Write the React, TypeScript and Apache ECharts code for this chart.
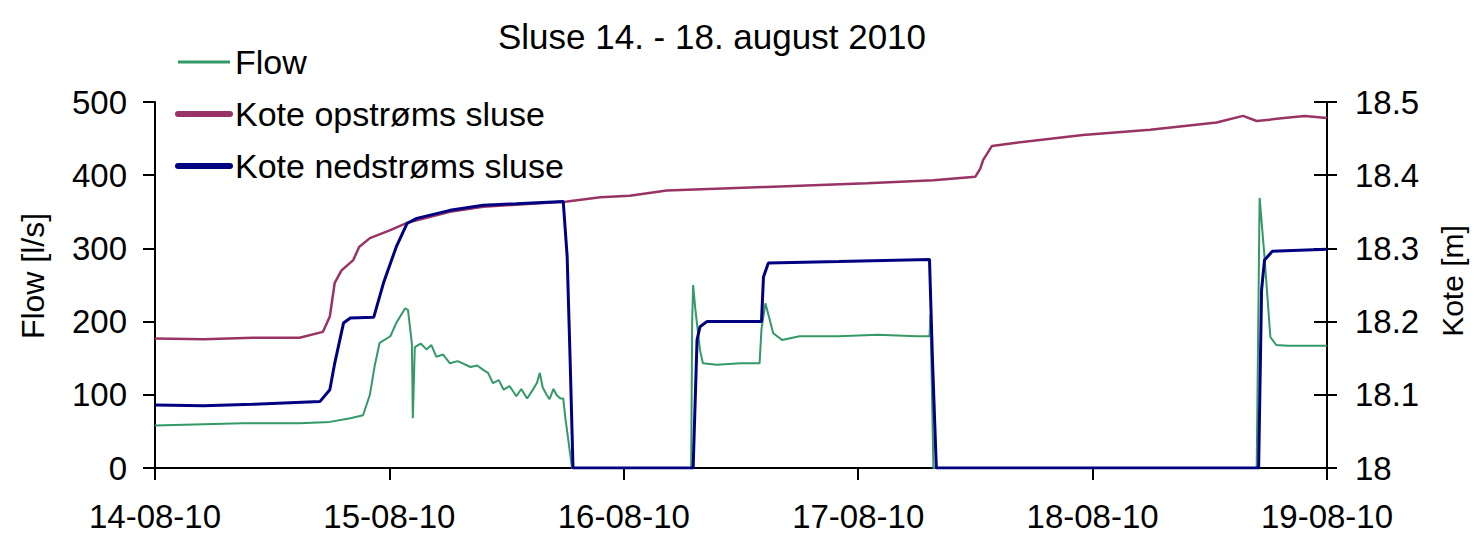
import React, { useEffect, useRef } from "react";
import * as echarts from "echarts";

const chartTitle = "Sluse 14. - 18. august 2010";
const seriesNames = ["Flow", "Kote opstrøms sluse", "Kote nedstrøms sluse"];
const leftAxisName = "Flow [l/s]";
const rightAxisName = "Kote [m]";

// hours since 14-08-10 00:00
const flowHours = [
  0, 3, 6, 9, 12, 14.8, 17.9, 20.0, 21.3, 22.0, 22.5, 23.0, 24.1, 24.7, 25.6, 25.9, 26.3, 26.4,
  26.6, 27.2, 27.8, 28.3, 28.8, 29.5, 30.2, 31.0, 32.3, 33.0, 33.6, 34.1, 34.6, 35.2, 35.7, 36.3,
  37.0, 37.5, 38.1, 38.6, 39.1, 39.4, 39.7, 40.1, 40.4, 40.8, 41.1, 41.5, 41.8, 42.0, 42.3, 42.7,
  54.9, 55.0, 55.1, 55.3, 55.8, 56.1, 57.5, 60.0, 61.9, 62.1, 62.5, 63.3, 64.2, 66, 70, 74, 78,
  79.3, 79.4, 79.7, 112.8, 113.1, 113.6, 114.2, 114.8, 116, 120,
];
const flowValues = [
  58, 59, 60, 61, 61, 61, 63, 68, 72, 100, 140, 171, 180, 198, 218, 216, 170, 68,
  165, 170, 162, 168, 152, 155, 143, 146, 138, 140, 134, 130, 116, 120, 107, 112,
  98, 108, 95, 105, 116, 130, 110, 100, 94, 108, 100, 95, 95, 70, 40, 0,
  0, 200, 250, 220, 161, 143, 141, 143, 143, 190, 225, 184, 175, 180, 180, 182, 180,
  180, 210, 0, 0, 369, 289, 179, 168, 167, 167,
];

const opstromsHours = [
  0, 5, 10, 14.8, 17.2, 17.9, 18.4, 19.1, 20.3, 20.9, 22.0, 24.1, 25.8, 30.2, 33.6, 42.2, 45.6,
  48.6, 52.4, 62.6, 72.9, 79.7, 84.0, 84.5, 84.8, 85.7, 88.0, 95.0, 101.9, 108.7, 111.4, 112.8,
  115.6, 117.7, 120,
];
const opstromsValues = [
  18.177, 18.176, 18.178, 18.178, 18.186, 18.207, 18.253, 18.27, 18.284, 18.302, 18.314, 18.325,
  18.335, 18.35, 18.357, 18.364, 18.37, 18.372, 18.379, 18.384, 18.389, 18.393, 18.398, 18.409,
  18.421, 18.44, 18.444, 18.455, 18.462, 18.472, 18.481, 18.474, 18.478, 18.481, 18.478,
];

const nedstromsHours = [
  0, 5, 10, 16.9, 17.9, 18.4, 19.3, 20.0, 22.4, 23.4, 24.7, 25.8, 26.8, 30.2, 33.6, 37.0, 41.8,
  42.2, 42.5, 42.8, 55.1, 55.5, 55.8, 56.5, 62.1, 62.3, 62.8, 70, 79.3, 79.6, 80.0, 113.0, 113.3,
  113.6, 114.4, 120,
];
const nedstromsValues = [
  18.086, 18.085, 18.087, 18.091, 18.107, 18.143, 18.198, 18.205, 18.206, 18.253, 18.302, 18.334,
  18.341, 18.352, 18.359, 18.361, 18.364, 18.289, 18.15, 18.0, 18.0, 18.175, 18.193, 18.2, 18.2,
  18.261, 18.28, 18.282, 18.285, 18.15, 18.0, 18.0, 18.243, 18.284, 18.296, 18.299,
];

const colors = ["#339966", "#993366", "#000080"];
const FONT = "'Liberation Sans', Arial, sans-serif";

function pairs(xs: number[], ys: number[]) {
  return xs.map((x, i) => [x, ys[i]]);
}

function dayLabel(h: number) {
  const d = 14 + Math.round(h / 24);
  return `${d}-08-10`;
}

export default function App() {
  const ref = useRef<HTMLDivElement>(null);
  useEffect(() => {
    if (!ref.current) return;
    const chart = echarts.init(ref.current, undefined, { renderer: "svg" });
    const axisLine = { show: true, lineStyle: { color: "#000", width: 2 } };
    const labelStyle = { color: "#000", fontFamily: FONT, fontSize: 33 };
    const hiddenSymbol = { opacity: 0, borderWidth: 0 };
    chart.setOption({
      animation: false,
      backgroundColor: "#fff",
      color: colors,
      title: {
        text: chartTitle,
        left: 707,
        textAlign: "center",
        top: 14,
        textStyle: { color: "#000", fontFamily: FONT, fontSize: 35, fontWeight: "normal" },
      },
      legend: {
        orient: "vertical",
        left: 175,
        top: 45,
        padding: 0,
        itemWidth: 52,
        itemHeight: 14,
        itemGap: 18,
        textStyle: { color: "#000", fontFamily: FONT, fontSize: 34, lineHeight: 34 },
        data: [
          { name: seriesNames[0], lineStyle: { width: 3 }, itemStyle: hiddenSymbol },
          { name: seriesNames[1], lineStyle: { width: 6, cap: "round" }, itemStyle: hiddenSymbol },
          { name: seriesNames[2], lineStyle: { width: 6, cap: "round" }, itemStyle: hiddenSymbol },
        ],
      },
      grid: { left: 155, right: 148, top: 102, bottom: 68, containLabel: false, outerBoundsMode: "none" },
      xAxis: {
        type: "value",
        min: 0,
        max: 120,
        interval: 24,
        axisLine: { ...axisLine, onZero: false },
        axisTick: { show: true, inside: false, length: 12, lineStyle: { color: "#000", width: 2 } },
        axisLabel: { ...labelStyle, margin: 32, formatter: (v: number) => dayLabel(v) },
        splitLine: { show: false },
      },
      yAxis: [
        {
          type: "value",
          position: "left",
          min: 0,
          max: 500,
          interval: 100,
          axisLine,
          axisTick: { show: true, inside: false, length: 12, lineStyle: { color: "#000", width: 2 } },
          axisLabel: { ...labelStyle, margin: 28 },
          splitLine: { show: false },
        },
        {
          type: "value",
          position: "right",
          min: 18,
          max: 18.5,
          interval: 0.1,
          axisLine,
          axisTick: { show: true, inside: false, length: 10, lineStyle: { color: "#000", width: 2 } },
          axisLabel: {
            ...labelStyle,
            margin: 28,
            formatter: (v: number) => String(Number(v.toFixed(1))),
          },
          splitLine: { show: false },
        },
        {
          type: "value",
          position: "right",
          min: 18,
          max: 18.5,
          interval: 0.1,
          axisLine: { show: false },
          axisTick: { show: true, inside: true, length: 13, lineStyle: { color: "#000", width: 2 } },
          axisLabel: { show: false },
          splitLine: { show: false },
        },
      ],
      graphic: [
        {
          type: "text",
          x: 33,
          y: 276,
          rotation: Math.PI / 2,
          style: {
            text: leftAxisName,
            fill: "#000",
            font: `32px ${FONT}`,
            textAlign: "center",
            textVerticalAlign: "middle",
          },
        },
        {
          type: "text",
          x: 1452,
          y: 281,
          rotation: Math.PI / 2,
          style: {
            text: rightAxisName,
            fill: "#000",
            font: `30px ${FONT}`,
            textAlign: "center",
            textVerticalAlign: "middle",
          },
        },
      ],
      series: [
        {
          name: seriesNames[0],
          type: "line",
          yAxisIndex: 0,
          data: pairs(flowHours, flowValues),
          showSymbol: false,
          symbol: "none",
          lineStyle: { width: 2, color: colors[0] },
          z: 3,
        },
        {
          name: seriesNames[1],
          type: "line",
          yAxisIndex: 1,
          data: pairs(opstromsHours, opstromsValues),
          showSymbol: false,
          symbol: "none",
          lineStyle: { width: 2.5, color: colors[1] },
          z: 4,
        },
        {
          name: seriesNames[2],
          type: "line",
          yAxisIndex: 1,
          data: pairs(nedstromsHours, nedstromsValues),
          showSymbol: false,
          symbol: "none",
          lineStyle: { width: 3, color: colors[2] },
          z: 5,
        },
      ],
    });
    return () => chart.dispose();
  }, []);
  return (
    <div
      ref={ref}
      style={{ position: "fixed", left: 0, top: 0, width: 1475, height: 536, background: "#fff" }}
    />
  );
}
